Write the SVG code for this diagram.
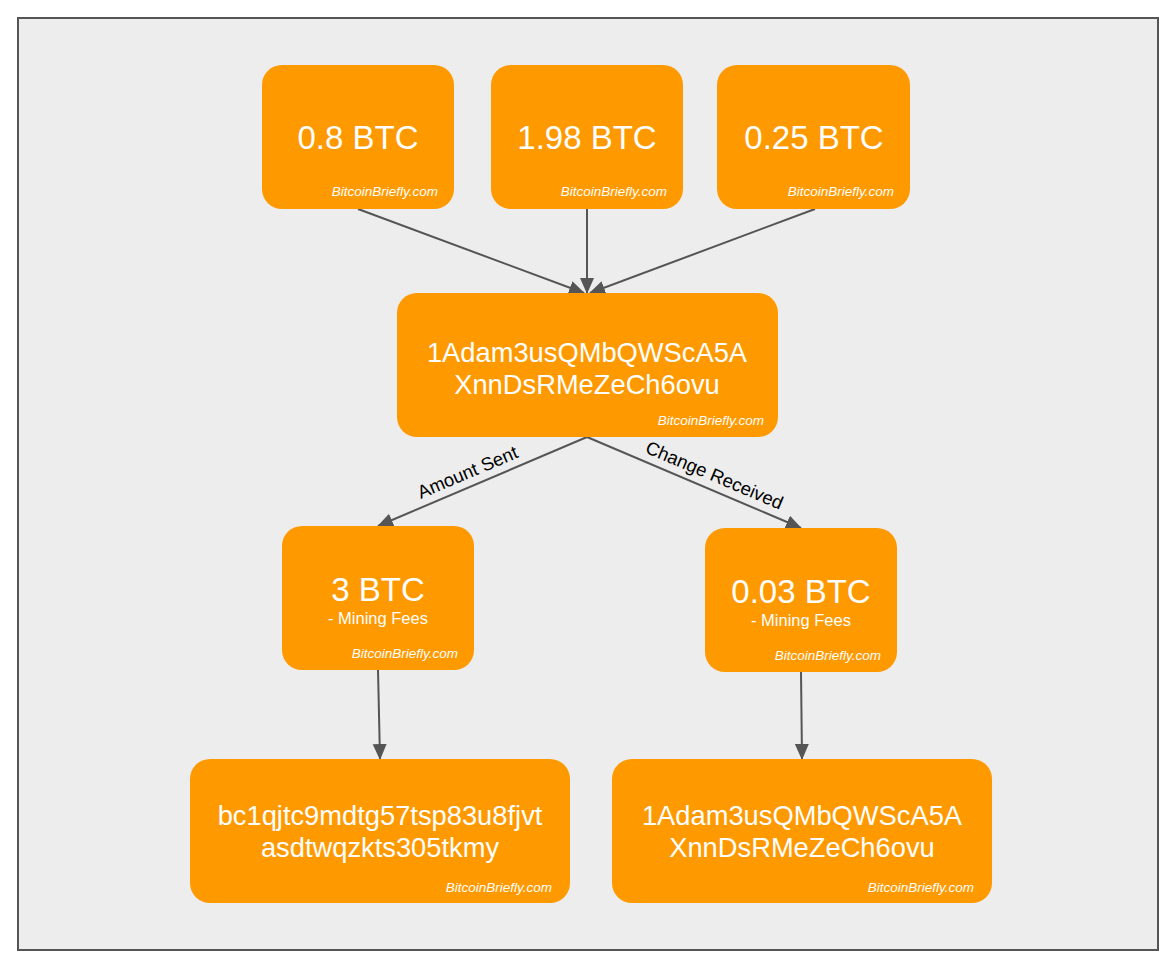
<svg xmlns="http://www.w3.org/2000/svg" width="1170" height="970" viewBox="0 0 1170 970">
<style>
.n{fill:#ff9900;}
.t{fill:#fff;font-family:"Liberation Sans",Arial,sans-serif;text-anchor:middle;}
.big{font-size:33px;}
.addr{font-size:27.3px;}
.sub{font-size:16.5px;}
.wm{fill:#fff;font-family:"Liberation Sans",Arial,sans-serif;font-style:italic;font-size:13.5px;text-anchor:end;}
.c{stroke:#555;stroke-width:2;fill:none;marker-end:url(#ah);}
.lbl{font-family:"Liberation Sans",Arial,sans-serif;font-size:18.5px;fill:#000;text-anchor:middle;}
</style>
<defs>
<marker id="ah" markerWidth="16" markerHeight="16" refX="15" refY="7" orient="auto" markerUnits="userSpaceOnUse">
<path d="M0,0 L16,7 L0,14 Z" fill="#555"/>
</marker>
</defs>
<rect x="18" y="18" width="1140" height="932" fill="#ededed" stroke="#555" stroke-width="2"/>
<g id="connectors">
<line class="c" x1="358" y1="209" x2="584" y2="293"/>
<line class="c" x1="587" y1="209" x2="587" y2="293"/>
<line class="c" x1="815" y1="209" x2="590" y2="293"/>
<line class="c" x1="587" y1="437" x2="378" y2="526"/>
<line class="c" x1="587" y1="437" x2="801" y2="528"/>
<line class="c" x1="378" y1="670" x2="380" y2="759"/>
<line class="c" x1="801" y1="672" x2="802" y2="759"/>
<text class="lbl" transform="translate(470,478) rotate(-23)">Amount Sent</text>
<text class="lbl" transform="translate(712,481) rotate(23)">Change Received</text>
</g>
<g id="n1">
<rect class="n" x="262" y="65" width="192" height="144" rx="20"/>
<text class="t big" x="358" y="149">0.8 BTC</text>
<text class="wm" x="438" y="196">BitcoinBriefly.com</text>
</g>
<g id="n2">
<rect class="n" x="491" y="65" width="192" height="144" rx="20"/>
<text class="t big" x="587" y="149">1.98 BTC</text>
<text class="wm" x="667" y="196">BitcoinBriefly.com</text>
</g>
<g id="n3">
<rect class="n" x="717" y="65" width="193" height="144" rx="20"/>
<text class="t big" x="814" y="149">0.25 BTC</text>
<text class="wm" x="894" y="196">BitcoinBriefly.com</text>
</g>
<g id="center">
<rect class="n" x="397" y="293" width="381" height="144" rx="20"/>
<text class="t addr" x="587" y="362">1Adam3usQMbQWScA5A</text>
<text class="t addr" x="587" y="394">XnnDsRMeZeCh6ovu</text>
<text class="wm" x="764" y="425">BitcoinBriefly.com</text>
</g>
<g id="sent">
<rect class="n" x="282" y="526" width="192" height="144" rx="20"/>
<text class="t big" x="378" y="601">3 BTC</text>
<text class="t sub" x="378" y="624">- Mining Fees</text>
<text class="wm" x="458" y="658">BitcoinBriefly.com</text>
</g>
<g id="change">
<rect class="n" x="705" y="528" width="192" height="144" rx="20"/>
<text class="t big" x="801" y="603">0.03 BTC</text>
<text class="t sub" x="801" y="626">- Mining Fees</text>
<text class="wm" x="881" y="660">BitcoinBriefly.com</text>
</g>
<g id="dest">
<rect class="n" x="190" y="759" width="380" height="144" rx="20"/>
<text class="t addr" x="380" y="825">bc1qjtc9mdtg57tsp83u8fjvt</text>
<text class="t addr" x="380" y="857">asdtwqzkts305tkmy</text>
<text class="wm" x="552" y="892">BitcoinBriefly.com</text>
</g>
<g id="changeaddr">
<rect class="n" x="612" y="759" width="380" height="144" rx="20"/>
<text class="t addr" x="802" y="825">1Adam3usQMbQWScA5A</text>
<text class="t addr" x="802" y="857">XnnDsRMeZeCh6ovu</text>
<text class="wm" x="974" y="892">BitcoinBriefly.com</text>
</g>
</svg>
